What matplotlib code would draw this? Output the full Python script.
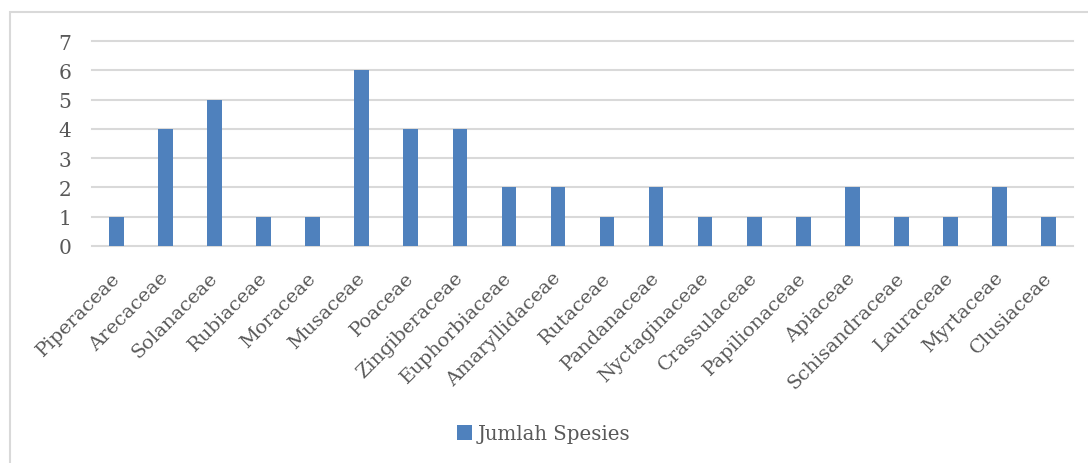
import matplotlib.pyplot as plt
from matplotlib.patches import Rectangle
from matplotlib.transforms import ScaledTranslation
import numpy as np

# Jumlah spesies per famili
families = ['Piperaceae', 'Arecaceae', 'Solanaceae', 'Rubiaceae', 'Moraceae',
            'Musaceae', 'Poaceae', 'Zingiberaceae', 'Euphorbiaceae', 'Amaryllidaceae',
            'Rutaceae', 'Pandanaceae', 'Nyctaginaceae', 'Crassulaceae', 'Papilionaceae',
            'Apiaceae', 'Schisandraceae', 'Lauraceae', 'Myrtaceae', 'Clusiaceae']
jumlah = [1, 4, 5, 1, 1, 6, 4, 4, 2, 2, 1, 2, 1, 1, 1, 2, 1, 1, 2, 1]

plt.rcParams['font.family'] = ['DejaVu Serif']
txt = '#595959'
grid = '#d9d9d9'
bar_col = '#4f81bd'

W, H = 1088, 464
fig = plt.figure(figsize=(W / 100, H / 100), dpi=100)

# outer chart border (cut off at right and bottom)
fig.patches.append(Rectangle((10 / W, -0.1), 1.2, 1 - 13 / H + 0.1,
                             transform=fig.transFigure, fill=False,
                             edgecolor=grid, linewidth=1.5))

ax = fig.add_axes([92 / W, 1 - 247 / H, (1073 - 92) / W, (247 - 42) / H])
x = np.arange(len(families))
ax.bar(x, jumlah, width=0.3, color=bar_col, zorder=3, label='Jumlah Spesies')

ax.set_xlim(-0.5, len(families) - 0.5)
ax.set_ylim(0, 7)
ax.set_yticks(range(0, 8))
ax.yaxis.grid(True, color=grid, linewidth=1.5, zorder=0)
for gl in ax.get_ygridlines():
    gl.set_clip_on(False)
for s in ax.spines.values():
    s.set_visible(False)
ax.tick_params(axis='both', length=0, colors=txt)
ax.tick_params(axis='y', pad=15, labelsize=14.5)
ax.set_xticks(x)
ax.set_xticklabels(families, rotation=45, ha='right', rotation_mode='anchor',
                   fontsize=14)
ax.tick_params(axis='x', pad=16)
shift = ScaledTranslation(-6 / 100, 0, fig.dpi_scale_trans)
for lab in ax.get_xticklabels():
    lab.set_transform(lab.get_transform() + shift)

fig.legend(loc='center', bbox_to_anchor=(0.5, 1 - 435 / H), frameon=False,
           fontsize=14.2, labelcolor=txt, handlelength=0.75, handleheight=0.75,
           handletextpad=0.3)

fig.savefig('out.png', dpi=100)
